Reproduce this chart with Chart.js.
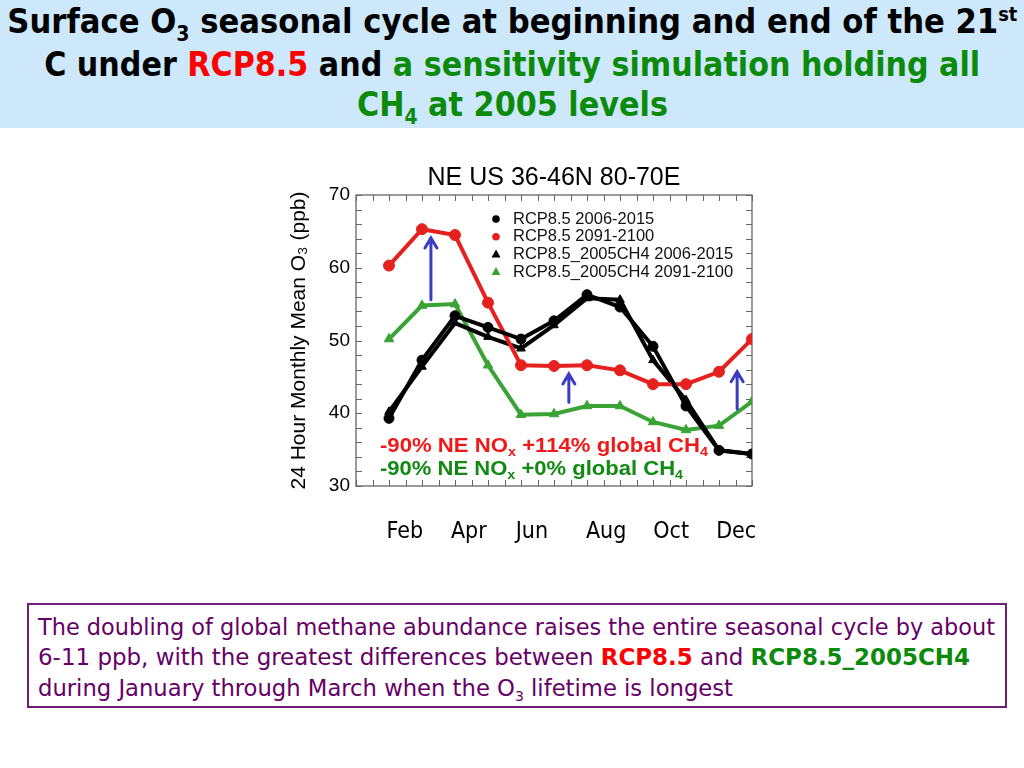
<!DOCTYPE html>
<html><head><meta charset="utf-8">
<script src="https://cdn.jsdelivr.net/npm/chart.js@4"></script>
<style>
html,body{margin:0;padding:0;background:#fff;width:1024px;height:768px;overflow:hidden;position:relative;}
#hdr{position:absolute;left:0;top:0;width:1024px;height:128px;background:#cce8fa;}
.hl{position:absolute;left:0;width:1024px;text-align:center;font:bold 33px "DejaVu Sans Condensed","DejaVu Sans",sans-serif;white-space:nowrap;line-height:38px;color:#000;}
.fit{display:inline-block;transform-origin:50% 50%;}
.sb{font-size:62%;position:relative;top:0.38em;}
.sp{font-size:58%;position:relative;top:-0.62em;}
#box{position:absolute;left:27px;top:603px;width:980px;height:105px;border:2px solid #6e1f78;box-sizing:border-box;}
.bl{position:absolute;left:38px;font:23px "DejaVu Sans Condensed","DejaVu Sans",sans-serif;color:#660066;white-space:nowrap;line-height:28px;}
.bl .fit{transform-origin:0 50%;}
.r{color:#ff0000;} .g{color:#0b8a0b;}
.bl .r,.bl .g{font-weight:bold;}
#cv{position:absolute;left:0;top:140px;}
</style>
</head><body>
<div id="hdr">
  <div class="hl" style="top:3px"><span class="fit" data-w="1010">Surface O<span class="sb">3</span> seasonal cycle at beginning and end of the 21<span class="sp">st</span></span></div>
  <div class="hl" style="top:46px"><span class="fit" data-w="936">C under <span class="r">RCP8.5</span> and <span class="g">a sensitivity simulation holding all</span></span></div>
  <div class="hl" style="top:86px"><span class="fit g" data-w="311">CH<span class="sb">4</span> at 2005 levels</span></div>
</div>
<div id="box"></div>
<div class="bl" style="top:613px"><span class="fit" data-w="957">The doubling of global methane abundance raises the entire seasonal cycle by about</span></div>
<div class="bl" style="top:643px"><span class="fit" data-w="932">6-11 ppb, with the greatest differences between <span class="r">RCP8.5</span> and <span class="g">RCP8.5_2005CH4</span></span></div>
<div class="bl" style="top:674px"><span class="fit" data-w="695">during January through March when the O<span class="sb">3</span> lifetime is longest</span></div>
<canvas id="cv" width="1024" height="420"></canvas>
<script>
// ---------- data ----------
const MONTH_NUM = [1,2,3,4,5,6,7,8,9,10,11,12];
const RCP85_2006_2015   = [39.3, 47.3, 53.4, 51.8, 50.2, 52.7, 56.3, 54.6, 49.2, 41.0, 34.9, 34.4];
const RCP85_2091_2100   = [60.3, 65.3, 64.5, 55.2, 46.6, 46.5, 46.6, 45.9, 44.0, 44.0, 45.7, 50.2];
const CH4FIX_2006_2015  = [40.2, 46.4, 52.4, 50.5, 48.9, 52.1, 55.8, 55.6, 47.3, 41.8, 34.9, 34.4];
const CH4FIX_2091_2100  = [50.2, 54.8, 55.0, 46.6, 39.8, 39.9, 41.0, 41.0, 38.8, 37.7, 38.3, 41.6];
const SERIES_LABELS = ['RCP8.5 2006-2015','RCP8.5 2091-2100','RCP8.5_2005CH4 2006-2015','RCP8.5_2005CH4 2091-2100'];
const X_TICK_LABELS = ['Feb','Apr','Jun','Aug','Oct','Dec'];
const X_TICK_POS    = [1.48, 3.42, 5.33, 7.58, 9.55, 11.52];
const ARROW_X    = [2.27, 6.45, 11.55];
const ARROW_FROM = [55.6, 41.5, 40.6];
const ARROW_TO   = [64.1, 45.4, 45.7];
const NOTE_RED   = [['-90% NE NO',0],['x',1],[' +114% global CH',0],['4',1]];
const NOTE_GREEN = [['-90% NE NO',0],['x',1],[' +0% global CH',0],['4',1]];

// ---------- fit header text ----------
document.querySelectorAll('[data-w]').forEach(el=>{
  const w = el.getBoundingClientRect().width;
  el.style.transform = 'scaleX(' + (parseFloat(el.dataset.w)/w) + ')';
});

const pts = vals => MONTH_NUM.map((m,i)=>({x:m, y:vals[i]}));
const RED='#e5211f', GREEN='#3aa335', BLACK='#000';

const framePlugin = {
  id:'frame',
  beforeDatasetsDraw(chart){
    const {ctx, chartArea:a, scales:{x,y}} = chart;
    ctx.save();
    ctx.strokeStyle='#666'; ctx.lineWidth=1.3;
    ctx.strokeRect(a.left, a.top, a.width, a.height);
    ctx.lineWidth=1;
    ctx.beginPath();
    for(let v=x.min; v<=x.max+1e-9; v+=0.5){
      const px=Math.round(x.getPixelForValue(v))+0.5;
      ctx.moveTo(px,a.bottom); ctx.lineTo(px,a.bottom-6);
      ctx.moveTo(px,a.top); ctx.lineTo(px,a.top+6);
    }
    for(let v=y.min; v<=y.max+1e-9; v+=2){
      const py=Math.round(y.getPixelForValue(v))+0.5;
      ctx.moveTo(a.left,py); ctx.lineTo(a.left+6,py);
      ctx.moveTo(a.right,py); ctx.lineTo(a.right-6,py);
    }
    ctx.stroke();
    ctx.restore();
  },
  afterDatasetsDraw(chart){
    const {ctx, chartArea:a, scales:{x,y}} = chart;
    ctx.save();
    // arrows
    ctx.strokeStyle='#3b3bc4'; ctx.lineWidth=3; ctx.lineCap='round';
    ARROW_X.forEach((ax,i)=>{
      const px=x.getPixelForValue(ax), y0=y.getPixelForValue(ARROW_FROM[i]), y1=y.getPixelForValue(ARROW_TO[i]);
      ctx.beginPath(); ctx.moveTo(px,y0); ctx.lineTo(px,y1);
      ctx.moveTo(px-6,y1+10); ctx.lineTo(px,y1); ctx.lineTo(px+6,y1+10);
      ctx.stroke();
    });
    // annotation texts
    const rich=(parts,x0,yc,target,color)=>{
      const big='bold 20px "Liberation Sans", Arial, sans-serif', small='bold 13px "Liberation Sans", Arial, sans-serif';
      let w=0; parts.forEach(p=>{ctx.font=p[1]?small:big; w+=ctx.measureText(p[0]).width;});
      ctx.save(); ctx.translate(x0,yc); ctx.scale(target/w,1);
      ctx.fillStyle=color; ctx.textBaseline='alphabetic';
      let cx=0; parts.forEach(p=>{ctx.font=p[1]?small:big; ctx.fillText(p[0],cx,p[1]?11:7); cx+=ctx.measureText(p[0]).width;});
      ctx.restore();
    };
    rich(NOTE_RED, a.left+24, a.top+250, 328, '#f01818');
    rich(NOTE_GREEN, a.left+24, a.top+273, 303, '#128a12');
    // legend
    ctx.font='16.5px "Liberation Sans", Arial, sans-serif';
    ctx.textBaseline='middle'; ctx.textAlign='left';
    chart.data.datasets.forEach((ds,i)=>{
      const ly=a.top+24+i*17.7, mx=a.left+140;
      ctx.fillStyle=ds.pointBackgroundColor;
      ctx.beginPath();
      if(ds.pointStyle==='triangle'){ ctx.moveTo(mx,ly-5); ctx.lineTo(mx+4.5,ly+3); ctx.lineTo(mx-4.5,ly+3); ctx.closePath(); }
      else { ctx.arc(mx,ly,3.8,0,Math.PI*2); }
      ctx.fill();
      ctx.fillStyle='#111';
      ctx.fillText(ds.label, a.left+157, ly);
    });
    ctx.restore();
  }
};

new Chart(document.getElementById('cv'), {
  type:'line',
  data:{datasets:[
    {label:SERIES_LABELS[0], data:pts(RCP85_2006_2015), borderColor:BLACK, backgroundColor:BLACK, pointBackgroundColor:BLACK, pointBorderColor:BLACK, pointStyle:'circle', pointRadius:5},
    {label:SERIES_LABELS[1], data:pts(RCP85_2091_2100), borderColor:RED, backgroundColor:RED, pointBackgroundColor:RED, pointBorderColor:RED, pointStyle:'circle', pointRadius:5.5},
    {label:SERIES_LABELS[2], data:pts(CH4FIX_2006_2015), borderColor:BLACK, backgroundColor:BLACK, pointBackgroundColor:BLACK, pointBorderColor:BLACK, pointStyle:'triangle', pointRadius:5},
    {label:SERIES_LABELS[3], data:pts(CH4FIX_2091_2100), borderColor:GREEN, backgroundColor:GREEN, pointBackgroundColor:GREEN, pointBorderColor:GREEN, pointStyle:'triangle', pointRadius:5.5}
  ]},
  options:{
    responsive:false, animation:false,
    elements:{line:{borderWidth:4, tension:0}, point:{borderWidth:1}},
    layout:{padding:{left:285, right:272, top:0, bottom:14}},
    plugins:{
      legend:{display:false}, tooltip:{enabled:false},
      title:{display:true, text:'NE US 36-46N 80-70E', fullSize:false, color:'#000',
        font:{family:'"Liberation Sans", Arial, sans-serif', size:25, weight:'normal'}, padding:{top:23,bottom:2}}
    },
    scales:{
      x:{type:'linear', min:0, max:12, position:'bottom',
        grid:{display:false, drawTicks:false}, border:{display:false},
        afterBuildTicks:ax=>{ ax.ticks = X_TICK_POS.map(v=>({value:v})); },
        afterFit:s=>{ s.height=60; },
        ticks:{autoSkip:false, maxRotation:0, padding:32, color:'#000',
          font:{family:'"DejaVu Sans Condensed","DejaVu Sans",sans-serif', size:23},
          callback:(v,i)=>X_TICK_LABELS[i]}
      },
      y:{min:30, max:70,
        grid:{display:false, drawTicks:false}, border:{display:false},
        afterFit:s=>{ s.width=71; },
        ticks:{stepSize:10, padding:6, color:'#000', font:{family:'"Liberation Sans", Arial, sans-serif', size:19}},
        title:{display:true, text:'24 Hour Monthly Mean O₃ (ppb)', color:'#000', padding:{top:2,bottom:0},
          font:{family:'"Liberation Sans", Arial, sans-serif', size:21}}
      }
    }
  },
  plugins:[framePlugin]
});
</script>
</body></html>
